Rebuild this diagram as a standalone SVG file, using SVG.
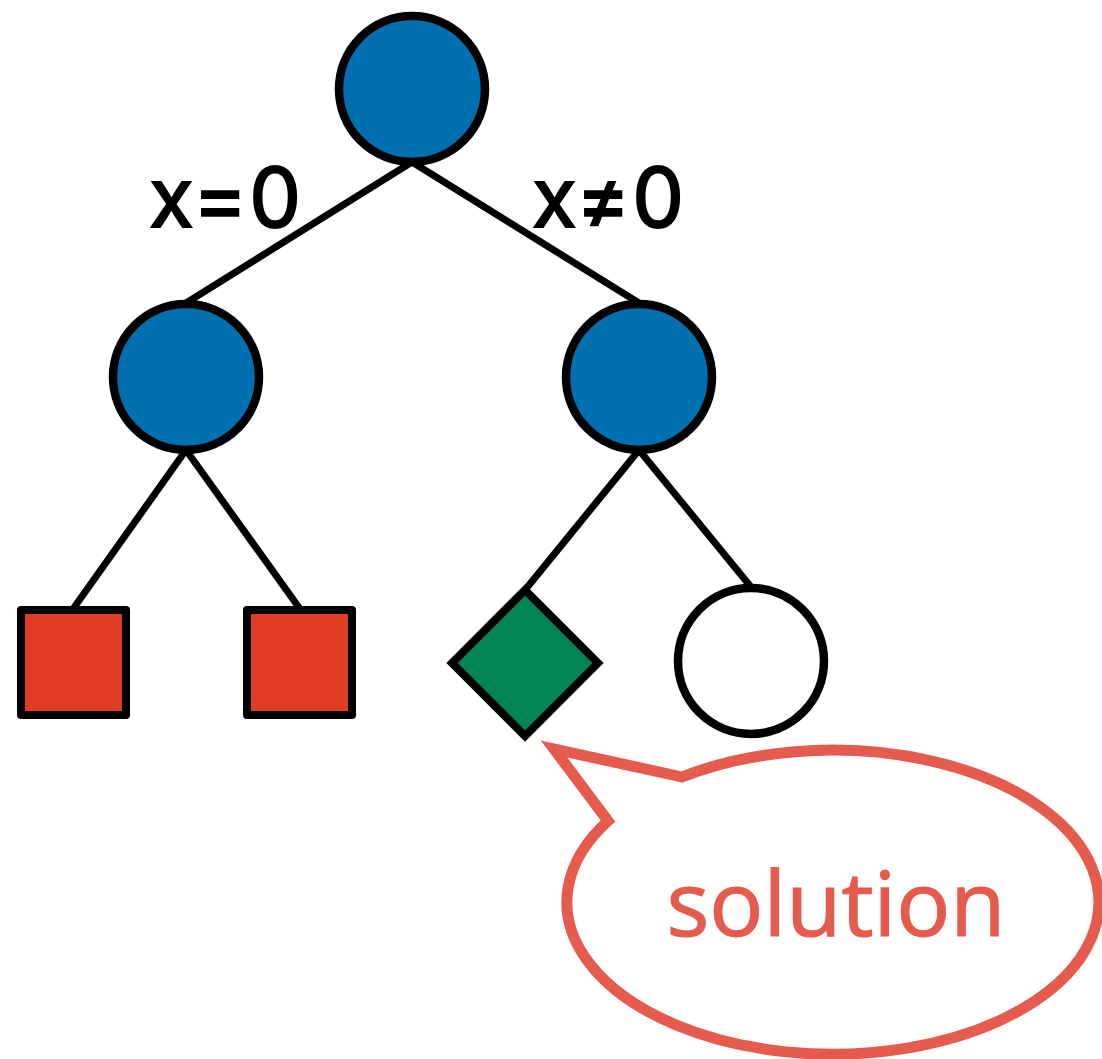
<svg xmlns="http://www.w3.org/2000/svg" width="1102" height="1059" viewBox="0 0 1102 1059">
  <style>
    .edge { stroke: #000; stroke-width: 7; fill: none; }
    .inner { fill: #0070B0; stroke: #000; stroke-width: 8.5; }
    .fail { fill: #E03C26; stroke: #000; stroke-width: 8; stroke-linejoin: round; }
    .sol { fill: #008553; stroke: #000; stroke-width: 8; stroke-linejoin: miter; }
    .open { fill: #fff; stroke: #000; stroke-width: 8.5; }
    .lbl { font-family: Inter, "DejaVu Sans", sans-serif; font-weight: 400; font-size: 82px; letter-spacing: 2px; fill: #000; stroke: #000; stroke-width: 2; }
    .callout { fill: #fff; stroke: #E55B4D; stroke-width: 11; stroke-linejoin: miter; }
    .callout-text { font-family: "Open Sans", sans-serif; font-weight: 400; font-size: 90px; fill: #E55B4D; stroke: #E55B4D; stroke-width: 1.2; }
  </style>
  <rect width="1102" height="1059" fill="#fff"/>

  <g id="edges">
    <line class="edge" x1="412" y1="162" x2="186" y2="303"/>
    <line class="edge" x1="412" y1="162" x2="639" y2="303"/>
    <line class="edge" x1="186" y1="450" x2="73" y2="609"/>
    <line class="edge" x1="186" y1="450" x2="300" y2="609"/>
    <line class="edge" x1="639" y1="450" x2="525" y2="590"/>
    <line class="edge" x1="639" y1="450" x2="751" y2="587"/>
  </g>

  <g id="edge-labels">
    <text class="lbl" x="226" y="227" text-anchor="middle">x=0</text>
    <text class="lbl" x="609" y="227" text-anchor="middle">x≠0</text>
  </g>

  <g id="root"><circle class="inner" cx="412" cy="89" r="73"/></g>
  <g id="left-child"><circle class="inner" cx="186" cy="377" r="73"/></g>
  <g id="right-child"><circle class="inner" cx="639" cy="377" r="73"/></g>
  <g id="leaf-1"><rect class="fail" x="21" y="610" width="105" height="105"/></g>
  <g id="leaf-2"><rect class="fail" x="247" y="610" width="105" height="105"/></g>
  <g id="leaf-3"><path class="sol" d="M525 590 L598 663 L525 736 L452 663 Z"/></g>
  <g id="leaf-4"><circle class="open" cx="751" cy="661" r="73"/></g>

  <g id="callout">
    <path class="callout" d="M682 777 L554 749 L608 821 A266 152 0 1 0 682 777 Z"/>
    <text class="callout-text" x="836" y="936" text-anchor="middle">solution</text>
  </g>
</svg>
